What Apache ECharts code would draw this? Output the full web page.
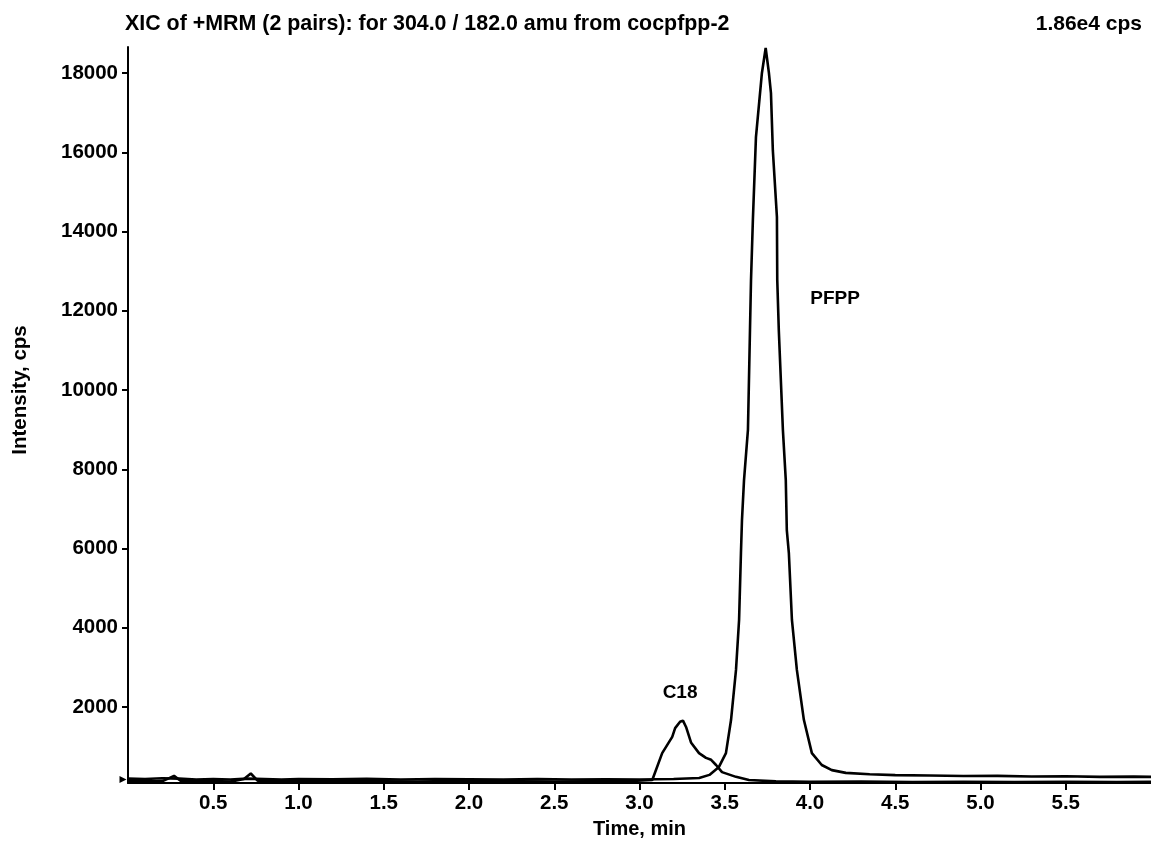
<!DOCTYPE html>
<html>
<head>
    <meta charset="utf-8">
    <title>XIC of +MRM</title>
    <script src="https://cdn.jsdelivr.net/npm/echarts@6.0.0/dist/echarts.min.js"></script>
</head>
<body style="margin:0;background:#fff;">
    <div id="main" style="width:1151px;height:842px;"></div>
    <script type="text/javascript">
    // retention time (min) and intensity (cps)
    var pfppTime = [0, 0.1, 0.2, 0.3, 0.4, 0.5, 0.6, 0.7, 0.8, 0.9, 1.0, 1.2, 1.4, 1.6, 1.8, 2.0, 2.2, 2.4, 2.6, 2.8, 3.0, 3.2, 3.35, 3.41,
        3.466, 3.507, 3.537, 3.566, 3.584, 3.595, 3.601, 3.613, 3.636, 3.648, 3.654, 3.665, 3.683, 3.718, 3.740,
        3.747, 3.759, 3.771, 3.782, 3.806, 3.808, 3.817, 3.841, 3.858, 3.864, 3.876, 3.894, 3.923, 3.964, 4.011,
        4.069, 4.128, 4.21, 4.35, 4.5, 4.7, 4.9, 5.1, 5.3, 5.5, 5.7, 5.9, 6.0];
    var pfppIntensity = [190, 180, 200, 190, 170, 180, 170, 190, 180, 170, 180, 175, 185, 170, 180, 175, 170, 180, 170, 175, 170, 180, 205, 285,
        485, 835, 1675, 2935, 4195, 5885, 6715, 7725, 8995, 11515, 12775, 14295, 16385, 18005, 18635,
        18585, 18005, 17495, 16055, 14365, 12775, 11515, 8995, 7725, 6465, 5885, 4195, 2935, 1675, 835,
        535, 405, 335, 300, 280, 270, 255, 260, 245, 250, 235, 240, 235];

    var c18Time = [0, 0.1, 0.2, 0.27, 0.31, 0.4, 0.5, 0.6, 0.68, 0.72, 0.76, 0.9, 1.1, 1.3, 1.5, 1.7, 1.9, 2.1, 2.3, 2.5, 2.7, 2.9,
        3.075, 3.133, 3.192, 3.209, 3.238, 3.255, 3.273, 3.303, 3.349, 3.39, 3.42, 3.449, 3.484, 3.566, 3.642,
        3.8, 4.0, 4.3, 4.6, 4.9, 5.2, 5.5, 5.8, 6.0];
    var c18Intensity = [120, 130, 120, 260, 130, 120, 130, 115, 180, 320, 140, 120, 130, 120, 125, 115, 130, 120, 125, 115, 125, 120,
        155, 835, 1245, 1465, 1625, 1655, 1495, 1095, 835, 715, 665, 535, 355, 235, 155,
        120, 110, 115, 105, 110, 105, 110, 105, 110];

    var yTicks = [2000, 4000, 6000, 8000, 10000, 12000, 14000, 16000, 18000];
    var xTicks = [0.5, 1.0, 1.5, 2.0, 2.5, 3.0, 3.5, 4.0, 4.5, 5.0, 5.5];

    var titleText = 'XIC of +MRM (2 pairs): for 304.0 / 182.0 amu from cocpfpp-2';
    var maxText = '1.86e4 cps';

    function pairs(xs, ys) {
        return xs.map(function (x, i) { return [x, ys[i]]; });
    }

    var font = 'Liberation Sans, Arial, Helvetica, sans-serif';
    var myChart = echarts.init(document.getElementById('main'));

    var option = {
        animation: false,
        title: [
            { text: titleText, left: 120, top: 9,
              textStyle: { fontFamily: font, fontSize: 21.4, fontWeight: 'bold', color: '#000' } },
            { text: maxText, right: 4, top: 9,
              textStyle: { fontFamily: font, fontSize: 21, fontWeight: 'bold', color: '#000' } }
        ],
        grid: { left: 128, right: 0, top: 47, bottom: 59, outerBoundsMode: 'none' },
        xAxis: {
            type: 'value',
            min: 0,
            max: 6,
            name: 'Time, min',
            nameLocation: 'middle',
            nameGap: 36,
            nameTextStyle: { fontFamily: font, fontSize: 20, fontWeight: 'bold', color: '#000' },
            splitLine: { show: false },
            axisLine: { lineStyle: { color: '#000', width: 2 } },
            axisTick: { length: 7, customValues: xTicks, lineStyle: { color: '#000', width: 2 } },
            axisLabel: {
                fontFamily: font, fontSize: 20.5, fontWeight: 'bold', color: '#000', margin: 10,
                customValues: xTicks,
                formatter: function (v) { return v.toFixed(1); }
            }
        },
        yAxis: {
            type: 'value',
            min: 80,
            max: 18660,
            name: 'Intensity, cps',
            nameLocation: 'middle',
            nameGap: 97,
            nameTextStyle: { fontFamily: font, fontSize: 20.5, fontWeight: 'bold', color: '#000',
                             padding: [0, 0, 0, 50] },
            splitLine: { show: false },
            axisLine: { show: true, lineStyle: { color: '#000', width: 2 } },
            axisTick: { show: true, length: 6, customValues: yTicks, lineStyle: { color: '#000', width: 2 } },
            axisLabel: {
                fontFamily: font, fontSize: 20.5, fontWeight: 'bold', color: '#000', margin: 10,
                customValues: yTicks,
                formatter: function (v) { return String(v); }
            }
        },
        series: [
            {
                name: 'PFPP',
                type: 'line',
                data: pairs(pfppTime, pfppIntensity),
                showSymbol: false,
                lineStyle: { color: '#000', width: 2.6 },
                z: 3,
                markPoint: {
                    symbol: 'circle',
                    symbolSize: 1,
                    itemStyle: { color: 'transparent' },
                    label: { show: true, position: 'inside', formatter: 'PFPP',
                             fontFamily: font, fontSize: 19, fontWeight: 'bold', color: '#000' },
                    data: [
                        { coord: [4.147, 12300] },
                        // small baseline arrow at the left edge
                        { coord: [0, 170], symbol: 'triangle', symbolRotate: -90, symbolSize: 7,
                          symbolOffset: [-5, 0], itemStyle: { color: '#000' }, label: { show: false } }
                    ]
                }
            },
            {
                name: 'C18',
                type: 'line',
                data: pairs(c18Time, c18Intensity),
                showSymbol: false,
                lineStyle: { color: '#000', width: 2.6 },
                z: 3,
                markPoint: {
                    symbol: 'circle',
                    symbolSize: 1,
                    itemStyle: { color: 'transparent' },
                    label: { show: true, position: 'inside', formatter: 'C18',
                             fontFamily: font, fontSize: 19, fontWeight: 'bold', color: '#000' },
                    data: [{ coord: [3.238, 2350] }]
                }
            }
        ]
    };

    myChart.setOption(option);
    </script>
</body>
</html>
